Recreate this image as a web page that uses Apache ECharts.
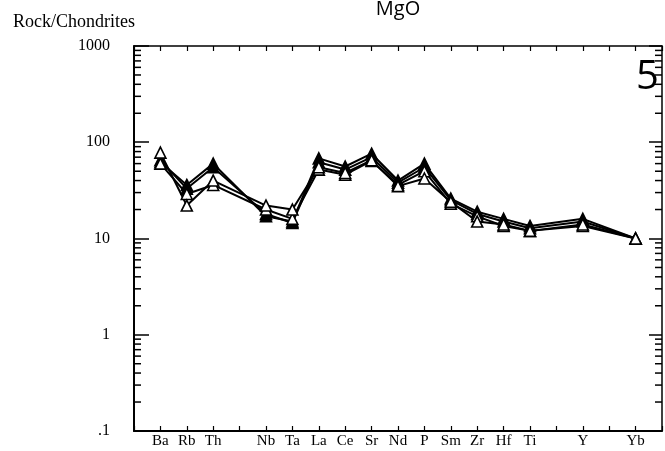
<!DOCTYPE html>
<html>
<head>
<meta charset="utf-8">
<script src="https://cdn.jsdelivr.net/npm/echarts@6/dist/echarts.min.js"></script>
<style>
  html, body { margin: 0; padding: 0; background: #fff; }
  #main { width: 665px; height: 451px; }
</style>
</head>
<body>
<div id="main"></div>
<script>
// slots along the x axis (blank ones are empty tick positions)
var slots = ['Ba', 'Rb', 'Th', '', 'Nb', 'Ta', 'La', 'Ce', 'Sr', 'Nd', 'P', 'Sm', 'Zr', 'Hf', 'Ti', '', 'Y', '', 'Yb'];
var elements = ['Ba', 'Rb', 'Th', 'Nb', 'Ta', 'La', 'Ce', 'Sr', 'Nd', 'P', 'Sm', 'Zr', 'Hf', 'Ti', 'Y', 'Yb'];
var yTicks = [0.1, 1, 10, 100, 1000];

// rock / chondrite values
var sampleA = [62, 36, 60, 17, 15, 68, 56, 76, 40, 60, 26, 19, 16, 13.5, 16, 10];
var sampleB = [65, 33, 55, 18, 14.5, 62, 52, 70, 38, 55, 25, 18, 15, 12.8, 15, 10];
var sampleC = [60, 29, 36, 20, 16, 52, 46, 64, 36, 50, 23, 17, 13.5, 12, 13.5, 10];
var sampleD = [78, 22, 40, 22, 20, 55, 48, 65, 35, 42, 24, 15, 14, 12, 14, 10];

var myChart = echarts.init(document.getElementById('main'));

function toPoints(vals) {
    return elements.map(function (el, i) {
        return [slots.indexOf(el), vals[i]];
    });
}

// minor ticks 2..9 within each decade
var minorTicks = [];
for (var d = 0; d < yTicks.length - 1; d++) {
    for (var m = 2; m <= 9; m++) {
        minorTicks.push([-1, +(yTicks[d] * m).toPrecision(3)]);
    }
}

function lineSeries(name, vals, filled) {
    return {
        name: name,
        type: 'line',
        data: toPoints(vals),
        symbol: 'triangle',
        symbolSize: 11,
        lineStyle: { color: '#000', width: 2 },
        itemStyle: {
            color: filled ? '#000' : '#fff',
            borderColor: '#000',
            borderWidth: 1.6
        },
        emphasis: { disabled: true },
        z: filled ? 3 : 4
    };
}

var serif = '"Liberation Serif", "DejaVu Serif", serif';

var option = {
    animation: false,
    textStyle: { fontFamily: serif },
    title: [{
        text: 'MgO',
        left: 393,
        top: -6,
        textAlign: 'center',
        textStyle: { fontFamily: '"Open Sans", sans-serif', fontSize: 20, fontWeight: 'normal', color: '#000' }
    }, {
        text: 'Rock/Chondrites',
        left: 8,
        top: 8,
        textStyle: { fontFamily: serif, fontSize: 18, fontWeight: 'normal', color: '#000' }
    }, {
        text: '5',
        left: 631,
        top: 53,
        textStyle: { fontFamily: '"Open Sans", sans-serif', fontSize: 40, fontWeight: 'normal', color: '#000' }
    }],
    grid: { left: 134, right: 1, top: 46, bottom: 20 },
    xAxis: [{
        type: 'value',
        min: -1,
        max: 19,
        interval: 1,
        position: 'bottom',
        splitLine: { show: false },
        axisLine: { onZero: false, lineStyle: { color: '#000', width: 2 } },
        axisTick: { inside: true, length: 5, lineStyle: { color: '#000', width: 1.2 } },
        axisLabel: {
            margin: 3,
            color: '#000',
            fontSize: 15,
            fontFamily: serif,
            formatter: function (v) { return slots[v] || ''; }
        }
    }, {
        type: 'value',
        min: -1,
        max: 19,
        interval: 1,
        position: 'top',
        splitLine: { show: false },
        axisLine: { onZero: false, lineStyle: { color: '#000', width: 1.5 } },
        axisTick: { inside: true, length: 5, lineStyle: { color: '#000', width: 1.2 } },
        axisLabel: { show: false }
    }],
    yAxis: [{
        type: 'log',
        logBase: 10,
        min: 0.1,
        max: 1000,
        position: 'left',
        splitLine: { show: false },
        axisLine: { onZero: false, lineStyle: { color: '#000', width: 2 } },
        axisTick: { inside: true, length: 15, lineStyle: { color: '#000', width: 1.5 } },
        axisLabel: {
            margin: 24,
            color: '#000',
            fontSize: 16,
            fontFamily: serif,
            formatter: function (v) { return v < 0.5 ? '.1' : String(Math.round(v)); }
        }
    }, {
        type: 'log',
        logBase: 10,
        min: 0.1,
        max: 1000,
        position: 'right',
        splitLine: { show: false },
        axisLine: { onZero: false, lineStyle: { color: '#000', width: 1.5 } },
        axisTick: { inside: true, length: 13, lineStyle: { color: '#000', width: 1.5 } },
        axisLabel: { show: false }
    }],
    series: [{
        type: 'custom',
        silent: true,
        data: minorTicks,
        encode: { x: 0, y: 1 },
        renderItem: function (params, api) {
            var l = api.coord([-1, api.value(1)]);
            var r = api.coord([19, api.value(1)]);
            var st = { stroke: '#000', lineWidth: 1.5 };
            return {
                type: 'group',
                children: [
                    { type: 'line', shape: { x1: l[0], y1: l[1], x2: l[0] + 7, y2: l[1] }, style: st },
                    { type: 'line', shape: { x1: r[0] - 7, y1: r[1], x2: r[0], y2: r[1] }, style: st }
                ]
            };
        }
    },
        lineSeries('A', sampleA, true),
        lineSeries('B', sampleB, true),
        lineSeries('C', sampleC, false),
        lineSeries('D', sampleD, false)
    ]
};

myChart.setOption(option);
</script>
</body>
</html>
